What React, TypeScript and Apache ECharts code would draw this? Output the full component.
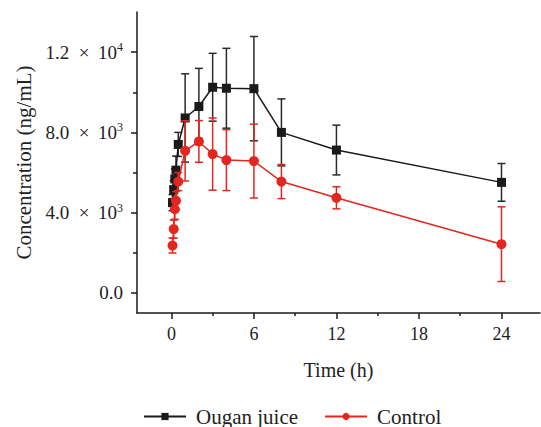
import React, { useEffect, useRef } from "react";
import * as echarts from "echarts";

const times = [0.083, 0.167, 0.25, 0.333, 0.5, 1, 2, 3, 4, 6, 8, 12, 24];
const ouganMean = [4500, 5150, 5680, 6120, 7400, 8720, 9290, 10250, 10200, 10180, 8000, 7120, 5510];
const ouganSD = [400, 450, 500, 700, 600, 2200, 1900, 1690, 1990, 2600, 1670, 1240, 940];
const controlMean = [2360, 3180, 4170, 4600, 5550, 7080, 7550, 6920, 6620, 6570, 5550, 4740, 2430];
const controlSD = [370, 450, 500, 450, 450, 1500, 1040, 1800, 1520, 1840, 850, 550, 1860];

const xMajorTicks = [0, 6, 12, 18, 24];
const xMinorTicks = [3, 9, 15, 21];
const yMajorTicks = [0, 4000, 8000, 12000];
const yMinorTicks = [2000, 6000, 10000];

const BLACK = "#1a1a1a";
const RED = "#e3261f";
const FONT = "Liberation Serif";

function yLabel(v: number): string {
  if (v === 0) return "{a|0.0}";
  const exp = Math.floor(Math.log10(v));
  const mant = (v / Math.pow(10, exp)).toFixed(1);
  return `{a|${mant}\u2002×\u2009 10}{sup|${exp}}`;
}

function errSeries(name: string, means: number[], sds: number[], color: string, z: number) {
  return {
    name,
    type: "custom",
    z,
    xAxisIndex: 0,
    yAxisIndex: 0,
    data: times.map((t, i) => [t, means[i] - sds[i], means[i] + sds[i]]),
    encode: { x: 0, y: [1, 2] },
    renderItem: (params: any, api: any) => {
      const x = api.value(0);
      const top = api.coord([x, api.value(2)]);
      const bot = api.coord([x, api.value(1)]);
      const w = 4;
      const st = { stroke: color, lineWidth: 1.5 };
      return {
        type: "group",
        children: [
          { type: "line", shape: { x1: top[0], y1: top[1], x2: bot[0], y2: bot[1] }, style: st },
          { type: "line", shape: { x1: top[0] - w, y1: top[1], x2: top[0] + w, y2: top[1] }, style: st },
          { type: "line", shape: { x1: bot[0] - w, y1: bot[1], x2: bot[0] + w, y2: bot[1] }, style: st },
        ],
      };
    },
  };
}

export default function App() {
  const ref = useRef<HTMLDivElement>(null);
  useEffect(() => {
    if (!ref.current) return;
    const chart = echarts.init(ref.current, null, { renderer: "svg" });
    const xMin = -2.5;
    const xMax = 26.8;
    const yMin = -1000;
    const yMax = 14000;
    chart.setOption({
      animation: false,
      backgroundColor: "#fff",
      textStyle: { fontFamily: FONT },
      grid: { left: 137, right: 1, top: 12, bottom: 114, containLabel: false, outerBoundsMode: "none" },
      legend: {
        left: 138,
        top: 401,
        itemWidth: 42,
        itemHeight: 9,
        itemGap: 26,
        data: ["Ougan juice", "Control"],
        textStyle: { fontFamily: FONT, fontSize: 21, color: "#222", padding: [0, 0, 0, 5] },
      },
      xAxis: [
        {
          type: "value",
          min: xMin,
          max: xMax,
          name: "Time (h)",
          nameLocation: "middle",
          nameGap: 47,
          nameTextStyle: { fontFamily: FONT, fontSize: 20, color: "#222" },
          axisLine: { show: true, onZero: false, lineStyle: { color: BLACK, width: 1.5 } },
          axisTick: { show: true, length: 6, customValues: xMajorTicks, lineStyle: { color: BLACK, width: 1.5 } },
          axisLabel: { customValues: xMajorTicks, fontFamily: FONT, fontSize: 18, color: "#222", margin: 12 },
          splitLine: { show: false },
        },
        {
          type: "value",
          min: xMin,
          max: xMax,
          position: "bottom",
          axisLine: { show: false, onZero: false },
          axisTick: { show: true, length: 3, customValues: xMinorTicks, lineStyle: { color: BLACK, width: 1.5 } },
          axisLabel: { show: false },
          splitLine: { show: false },
        },
      ],
      yAxis: [
        {
          type: "value",
          min: yMin,
          max: yMax,
          name: "Concentration (ng/mL)",
          nameLocation: "middle",
          nameGap: 103,
          nameTextStyle: { fontFamily: FONT, fontSize: 21, color: "#222" },
          axisLine: { show: true, onZero: false, lineStyle: { color: BLACK, width: 1.5 } },
          axisTick: { show: true, length: 6, customValues: yMajorTicks, lineStyle: { color: BLACK, width: 1.5 } },
          axisLabel: {
            customValues: yMajorTicks,
            margin: 14,
            formatter: (v: number) => yLabel(v),
            rich: {
              a: { fontFamily: FONT, fontSize: 19, color: "#222", lineHeight: 22 },
              sup: { fontFamily: FONT, fontSize: 12, color: "#222", verticalAlign: "top", lineHeight: 13 },
            },
          },
          splitLine: { show: false },
        },
        {
          type: "value",
          min: yMin,
          max: yMax,
          position: "left",
          axisLine: { show: false, onZero: false },
          axisTick: { show: true, length: 4, customValues: yMinorTicks, lineStyle: { color: BLACK, width: 1.5 } },
          axisLabel: { show: false },
          splitLine: { show: false },
        },
      ],
      series: [
        errSeries("ouganErr", ouganMean, ouganSD, "#2a2a2a", 2),
        {
          name: "Ougan juice",
          type: "line",
          z: 3,
          data: times.map((t, i) => [t, ouganMean[i]]),
          symbol: "rect",
          symbolSize: 9,
          itemStyle: { color: BLACK },
          lineStyle: { color: BLACK, width: 1.5 },
        },
        errSeries("controlErr", controlMean, controlSD, RED, 4),
        {
          name: "Control",
          type: "line",
          z: 5,
          data: times.map((t, i) => [t, controlMean[i]]),
          symbol: "circle",
          symbolSize: 10,
          itemStyle: { color: RED },
          lineStyle: { color: RED, width: 1.5 },
        },
      ],
    });
    return () => chart.dispose();
  }, []);
  return <div ref={ref} style={{ position: "fixed", left: 0, top: 0, width: 541, height: 427 }} />;
}
